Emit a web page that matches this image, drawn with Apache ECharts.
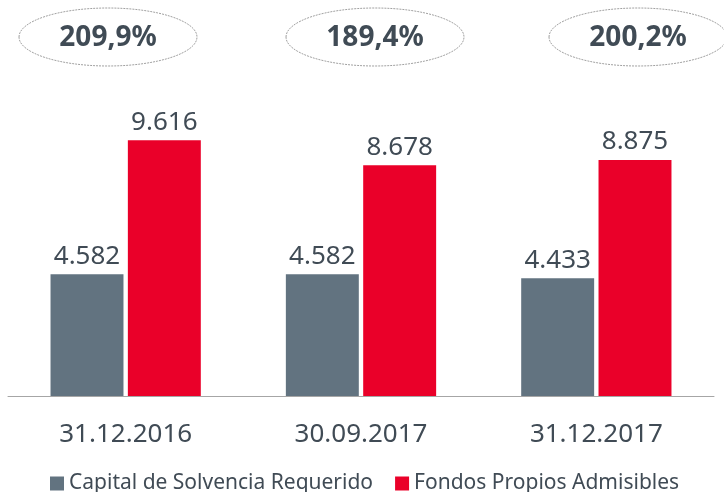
<!DOCTYPE html>
<html>
<head>
<meta charset="utf-8">
<script src="https://cdn.jsdelivr.net/npm/echarts@6/dist/echarts.min.js"></script>
<style>
  html, body { margin: 0; padding: 0; background: #fff; }
  #chart { width: 724px; height: 492px; }
</style>
</head>
<body>
<div id="chart"></div>
<script>
const categories = ['31.12.2016', '30.09.2017', '31.12.2017']
const scrValues = [4582, 4582, 4433]
const ownFundsValues = [9616, 8678, 8875]
const ratioLabels = ['209,9%', '189,4%', '200,2%']
const seriesNames = ['Capital de Solvencia Requerido', 'Fondos Propios Admisibles']

const colors = ['#627380', '#ea0029']
const textColor = '#404b55'
const font = '"Noto Sans", sans-serif'

// bubbles with the solvency ratio above each group
const ratioX = [108, 375, 638]
const bubbles = []
ratioLabels.forEach((txt, i) => {
  bubbles.push({
    type: 'ellipse',
    shape: { cx: ratioX[i], cy: 37, rx: 89, ry: 29 },
    style: { fill: 'none', stroke: '#a0a0a0', lineWidth: 1, lineDash: [2, 1] }
  })
  bubbles.push({
    type: 'text',
    x: ratioX[i],
    y: 38,
    style: {
      text: txt,
      fill: textColor,
      font: 'bold 28px ' + font,
      textAlign: 'center',
      textVerticalAlign: 'middle'
    }
  })
})

const valueLabel = {
  show: true,
  position: 'top',
  distance: 5,
  fontSize: 26,
  color: textColor,
  fontFamily: font,
  formatter: p => p.value.toLocaleString('de-DE')
}

const chart = echarts.init(document.getElementById('chart'))
chart.setOption({
  animation: false,
  color: colors,
  textStyle: { fontFamily: font },
  grid: { left: 8, right: 10, top: 77, bottom: 96 },
  legend: {
    data: seriesNames,
    left: 45,
    top: 468,
    icon: 'rect',
    itemWidth: 14,
    itemHeight: 14,
    itemGap: 22,
    textStyle: { fontSize: 21, color: textColor, fontFamily: font }
  },
  xAxis: {
    type: 'category',
    data: categories,
    axisLine: { lineStyle: { color: '#a6a6a6', width: 1 } },
    axisTick: { show: false },
    axisLabel: { fontSize: 26, color: textColor, margin: 26, fontFamily: font }
  },
  yAxis: {
    type: 'value',
    min: 0,
    max: 12000,
    show: false,
    splitLine: { show: false }
  },
  graphic: bubbles,
  series: [
    {
      name: seriesNames[0],
      type: 'bar',
      data: scrValues,
      barWidth: '31%',
      barGap: '6%',
      label: valueLabel
    },
    {
      name: seriesNames[1],
      type: 'bar',
      data: ownFundsValues,
      barWidth: '31%',
      label: valueLabel
    }
  ]
})
</script>
</body>
</html>
